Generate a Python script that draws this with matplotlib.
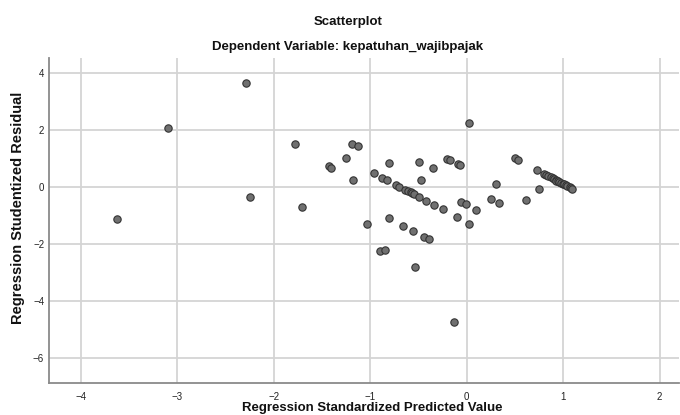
import matplotlib
matplotlib.use("Agg")
import matplotlib.pyplot as plt

plt.rcParams['font.family'] = ['Liberation Sans', 'DejaVu Sans']

title = "Scatterplot"
subtitle = "Dependent Variable: kepatuhan_wajibpajak"
xlabel = "Regression Standardized Predicted Value"
ylabel = "Regression Studentized Residual"

predicted = [-3.63, -3.10, -2.29, -2.25, -1.78, -1.71, -1.43, -1.41, -1.25, -1.19,
             -1.13, -1.18, -1.03, -0.96, -0.90, -0.88, -0.85, -0.83, -0.81, -0.81,
             -0.73, -0.70, -0.66, -0.64, -0.61, -0.58, -0.565, -0.55, -0.56, -0.54,
             -0.50, -0.50, -0.47, -0.44, -0.42, -0.39, -0.355, -0.34, -0.25, -0.20,
             -0.17, -0.13, -0.10, -0.09, -0.07, -0.055, -0.01, 0.025, 0.025, 0.10,
             0.25, 0.30, 0.33, 0.50, 0.535, 0.61, 0.73, 0.745,
             0.80, 0.82, 0.84, 0.87, 0.89, 0.90, 0.92, 0.93, 0.95, 0.96, 0.98,
             1.00, 1.01, 1.03, 1.04, 1.065, 1.08, 1.09]
residual = [-1.12, 2.07, 3.66, -0.35, 1.53, -0.69, 0.76, 0.68, 1.04, 1.52,
            1.45, 0.25, -1.28, 0.49, -2.24, 0.34, -2.20, 0.26, 0.84, -1.07,
            0.07, 0.01, -1.36, -0.08, -0.13, -0.18, -0.21, -0.23, -1.52, -2.80,
            0.90, -0.34, 0.25, -1.74, -0.47, -1.81, 0.67, -0.61, -0.77, 0.99,
            0.95, -4.74, -1.05, 0.82, 0.78, -0.52, -0.59, 2.26, -1.28, -0.79,
            -0.42, 0.12, -0.56, 1.03, 0.95, -0.45, 0.60, -0.07,
            0.47, 0.44, 0.41, 0.36, 0.32, 0.30, 0.27, 0.24, 0.21, 0.19, 0.16,
            0.13, 0.105, 0.08, 0.056, 0.0, -0.03, -0.06]

xticks = [-4, -3, -2, -1, 0, 1, 2]
yticks = [4, 2, 0, -2, -4, -6]

fig = plt.figure(figsize=(6.8, 4.15), dpi=100)
ax = fig.add_axes([49/680, 1 - 382.5/415, (679 - 49)/680, (382.5 - 58)/415])

ax.set_xlim(-4.331, 2.2)
ax.set_ylim(-6.85, 4.54)
ax.set_xticks(xticks)
ax.set_yticks(yticks)
ax.grid(True, color='#d4d4d4', linewidth=1.3)
ax.set_axisbelow(True)

ax.scatter(predicted, residual, s=28, facecolor='#707070', edgecolor='#333333',
           linewidth=0.8, zorder=3)

for side in ['top', 'right']:
    ax.spines[side].set_visible(False)
for side in ['left', 'bottom']:
    ax.spines[side].set_color('#8a8a8a')
    ax.spines[side].set_linewidth(1.3)

ax.tick_params(length=0, labelsize=7, colors='#222222')
ax.tick_params(axis='x', pad=6.5)
ax.tick_params(axis='y', pad=3.5)

fig.text(348/680, 1 - 21.7/415, title, ha='center', va='center',
         fontsize=9.5, fontweight='bold', color='#111111')
fig.text(348/680, 1 - 46.7/415, subtitle, ha='center', va='center',
         fontsize=9.5, fontweight='bold', color='#111111')
fig.text(372/680, 1 - 408/415, xlabel, ha='center', va='center',
         fontsize=9.5, fontweight='bold', color='#111111')
fig.text(18/680, 1 - 208/415, ylabel, ha='center', va='center', rotation=90,
         fontsize=10.5, fontweight='bold', color='#111111')

fig.savefig('out.png', dpi=100)
